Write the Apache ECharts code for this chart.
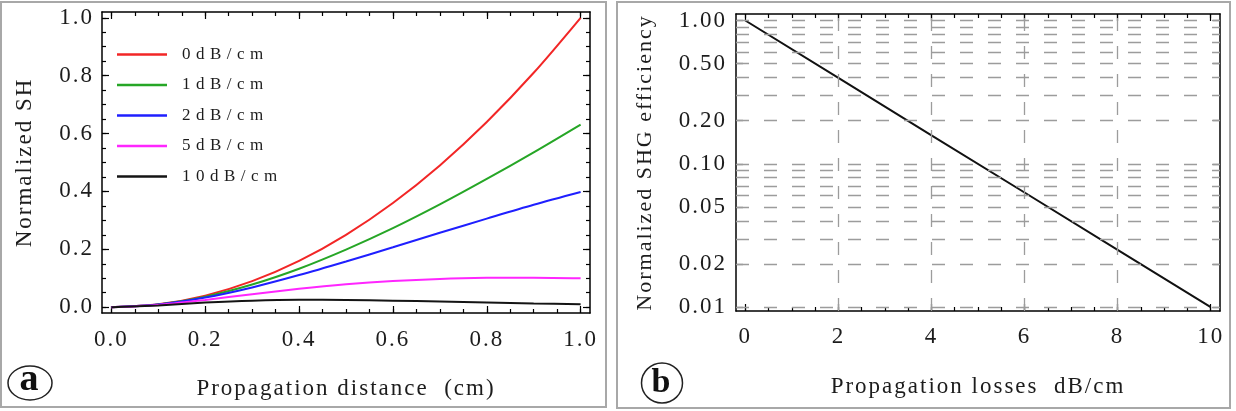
<!DOCTYPE html>
<html>
<head>
<meta charset="utf-8">
<title>Normalized SH</title>
<script src="https://cdn.jsdelivr.net/npm/echarts@6/dist/echarts.min.js"></script>
<style>
  html, body { margin: 0; padding: 0; background: #fff; }
  #chart { width: 1236px; height: 411px; }
</style>
</head>
<body>
<div id="chart"></div>
<script>
// (a) SH power against propagation distance, one curve per loss value
const distA = [0, 0.1, 0.2, 0.3, 0.4, 0.5, 0.6, 0.7, 0.8, 0.9, 1.0];
const sh0dB = [0, 0.01, 0.04, 0.09, 0.16, 0.25, 0.36, 0.49, 0.64, 0.81, 1.0];
const sh1dB = [0, 0.0096, 0.0365, 0.0784, 0.133, 0.199, 0.273, 0.355, 0.443, 0.535, 0.631];
const sh2dB = [0, 0.0091, 0.0333, 0.0683, 0.111, 0.158, 0.207, 0.257, 0.306, 0.354, 0.398];
const sh5dB = [0, 0.0079, 0.0252, 0.0451, 0.0637, 0.0791, 0.0904, 0.0978, 0.1014, 0.102, 0.1];
const sh10dB = [0, 0.0063, 0.0159, 0.0226, 0.0254, 0.025, 0.0227, 0.0195, 0.0161, 0.0128, 0.01];
const namesA = ["0dB/cm", "1dB/cm", "2dB/cm", "5dB/cm", "10dB/cm"];
const ticksXA = [0, 0.2, 0.4, 0.6, 0.8, 1.0];
const minorXA = [0, 0.05, 0.1, 0.15, 0.2, 0.25, 0.3, 0.35, 0.4, 0.45, 0.5,
  0.55, 0.6, 0.65, 0.7, 0.75, 0.8, 0.85, 0.9, 0.95, 1.0];
const ticksYA = [0, 0.2, 0.4, 0.6, 0.8, 1.0];
const minorYA = minorXA;

// (b) SHG efficiency against loss, log scale
const lossB = [0, 2, 4, 6, 8, 10];
const effB = [1.0, 0.398, 0.158, 0.0631, 0.0251, 0.01];
const ticksXB = [0, 2, 4, 6, 8, 10];
const minorXB = [0, 0.5, 1, 1.5, 2, 2.5, 3, 3.5, 4, 4.5, 5, 5.5, 6, 6.5, 7, 7.5,
  8, 8.5, 9, 9.5, 10];
const ticksYB = [0.01, 0.02, 0.05, 0.1, 0.2, 0.5, 1.0];
const gridYB = [0.01, 0.02, 0.03, 0.04, 0.05, 0.06, 0.07, 0.08, 0.09,
  0.1, 0.2, 0.3, 0.4, 0.5, 0.6, 0.7, 0.8, 0.9, 1.0];
const gridXB = [2, 4, 6, 8];

const FONT = "Liberation Serif";
const colorsA = ["#f22626", "#26a626", "#1f1fff", "#ff26ff", "#141414"];
const seriesA = [sh0dB, sh1dB, sh2dB, sh5dB, sh10dB];

// Mathematica spreads its letters out; legend text (17px) much more than the rest
const baseFillText = CanvasRenderingContext2D.prototype.fillText;
CanvasRenderingContext2D.prototype.fillText = function (t, x, y, w) {
  if ("letterSpacing" in this) {
    this.letterSpacing = / 17px /.test(" " + this.font + " ") ? "5.5px" : "2px";
  }
  return w === undefined ? baseFillText.call(this, t, x, y) : baseFillText.call(this, t, x, y, w);
};

// frame axis: only a line and inward ticks
function frameAxis(extra, ticks, len, line) {
  return Object.assign({
    type: "value",
    axisLine: { show: line, onZero: false, lineStyle: { color: "#000", width: 1.5 } },
    axisTick: { show: true, inside: true, length: len, customValues: ticks,
      lineStyle: { color: "#000", width: 1.2 } },
    axisLabel: { show: false },
    splitLine: { show: false }
  }, extra);
}

function labels(values, fmt, margin) {
  return {
    show: true, customValues: values, formatter: fmt, margin: margin,
    fontFamily: FONT, fontSize: 23, color: "#1c1c1c"
  };
}

const nameStyle = { fontFamily: FONT, fontSize: 23, color: "#1c1c1c" };

const xA = { gridIndex: 0, min: -0.02, max: 1.02 };
const yA = { gridIndex: 0, min: -0.02, max: 1.02 };
const xB = { gridIndex: 1, min: -0.2, max: 10.2 };
const yB = { gridIndex: 1, type: "log", logBase: 10, min: 0.0094, max: 1.11 };

const xAxes = [
  frameAxis(Object.assign({}, xA, {
    position: "bottom",
    axisLabel: labels(ticksXA, v => v.toFixed(1), 15),
    name: "Propagation distance  (cm)", nameLocation: "middle", nameGap: 64,
    nameTextStyle: nameStyle
  }), ticksXA, 7, true),
  frameAxis(Object.assign({}, xA, { position: "bottom" }), minorXA, 4, false),
  frameAxis(Object.assign({}, xA, { position: "top" }), ticksXA, 7, true),
  frameAxis(Object.assign({}, xA, { position: "top" }), minorXA, 4, false),
  frameAxis(Object.assign({}, xB, {
    position: "bottom",
    axisLabel: labels(ticksXB, v => String(v), 14),
    name: "Propagation losses  dB/cm", nameLocation: "middle", nameGap: 64,
    nameTextStyle: nameStyle
  }), ticksXB, 7, true),
  frameAxis(Object.assign({}, xB, { position: "bottom" }), minorXB, 4, false),
  frameAxis(Object.assign({}, xB, { position: "top" }), ticksXB, 7, true),
  frameAxis(Object.assign({}, xB, { position: "top" }), minorXB, 4, false)
];

const yAxes = [
  frameAxis(Object.assign({}, yA, {
    position: "left",
    axisLabel: labels(ticksYA, v => v.toFixed(1), 8),
    name: "Normalized SH", nameLocation: "middle", nameGap: 66,
    nameTextStyle: nameStyle
  }), ticksYA, 7, true),
  frameAxis(Object.assign({}, yA, { position: "left" }), minorYA, 4, false),
  frameAxis(Object.assign({}, yA, { position: "right" }), ticksYA, 7, true),
  frameAxis(Object.assign({}, yA, { position: "right" }), minorYA, 4, false),
  frameAxis(Object.assign({}, yB, {
    position: "left",
    axisLabel: labels(ticksYB, v => v.toFixed(2), 9),
    name: "Normalized SHG efficiency", nameLocation: "middle", nameGap: 80,
    nameTextStyle: Object.assign({}, nameStyle, { fontSize: 22 })
  }), ticksYB, 7, true),
  frameAxis(Object.assign({}, yB, { position: "right" }), ticksYB, 7, true)
];

const series = namesA.map((name, i) => ({
  name: name,
  type: "line",
  xAxisIndex: 0,
  yAxisIndex: 0,
  data: distA.map((x, k) => [x, seriesA[i][k]]),
  smooth: 0.3,
  symbol: "none",
  showSymbol: false,
  lineStyle: { width: 2, color: colorsA[i] },
  itemStyle: { color: colorsA[i] },
  z: 3
}));

// dashed grid of panel b, drawn under the curve
series.push({
  name: "grid",
  type: "line",
  xAxisIndex: 4,
  yAxisIndex: 4,
  data: lossB.map((x, k) => [x, effB[k]]),
  symbol: "none",
  lineStyle: { opacity: 0 },
  silent: true,
  z: 1,
  markLine: {
    silent: true,
    symbol: "none",
    label: { show: false },
    lineStyle: { color: "#9c9c9c", width: 1.3, type: [13, 15] },
    data: gridYB.map(v => ({ yAxis: v })).concat(gridXB.map(v => ({ xAxis: v })))
  }
});

series.push({
  name: "efficiency",
  type: "line",
  xAxisIndex: 4,
  yAxisIndex: 4,
  data: lossB.map((x, k) => [x, effB[k]]),
  symbol: "none",
  lineStyle: { width: 2, color: "#111" },
  z: 3
});

const chart = echarts.init(document.getElementById("chart"));
chart.setOption({
  animation: false,
  backgroundColor: "#fff",
  grid: [
    { left: 102, top: 12, width: 488, height: 301, outerBoundsMode: "none" },
    { left: 736, top: 14, width: 484, height: 297, outerBoundsMode: "none" }
  ],
  xAxis: xAxes,
  yAxis: yAxes,
  legend: {
    orient: "vertical",
    left: 117,
    top: 46,
    padding: 0,
    icon: "rect",
    itemWidth: 50,
    itemHeight: 2.5,
    itemGap: 13.5,
    selectedMode: false,
    data: namesA,
    textStyle: { fontFamily: FONT, fontSize: 17, color: "#1c1c1c", padding: [0, 0, 0, 10] }
  },
  graphic: [
    { type: "rect", silent: true, shape: { x: 1, y: 2, width: 605, height: 405 },
      style: { fill: "none", stroke: "#a8a8a8", lineWidth: 2 } },
    { type: "rect", silent: true, shape: { x: 617, y: 2, width: 613, height: 406 },
      style: { fill: "none", stroke: "#a8a8a8", lineWidth: 2 } },
    { type: "ellipse", silent: true, shape: { cx: 30, cy: 383, rx: 22, ry: 17 },
      style: { fill: "none", stroke: "#222", lineWidth: 1.5 } },
    { type: "text", silent: true, x: 30, y: 380,
      style: { text: "a", fontFamily: FONT, fontWeight: "bold", fontSize: 38,
        fill: "#111", align: "center", verticalAlign: "middle" } },
    { type: "ellipse", silent: true, shape: { cx: 662, cy: 383, rx: 20.5, ry: 20 },
      style: { fill: "none", stroke: "#222", lineWidth: 1.5 } },
    { type: "text", silent: true, x: 662, y: 383,
      style: { text: "b", fontFamily: FONT, fontWeight: "bold", fontSize: 34,
        fill: "#111", align: "center", verticalAlign: "middle" } }
  ],
  series: series
});
</script>
</body>
</html>
